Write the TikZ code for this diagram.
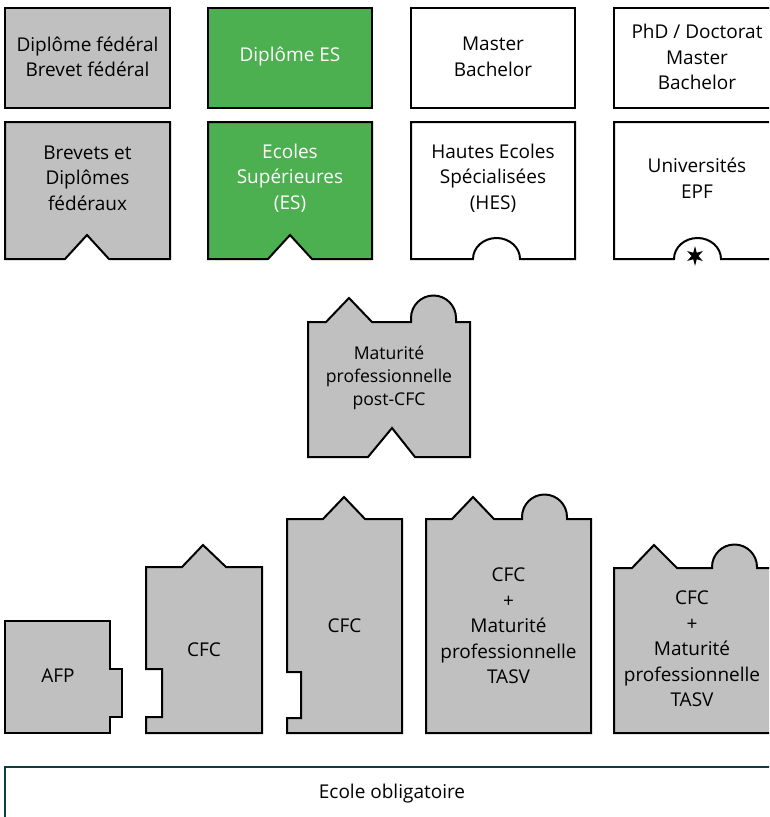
\documentclass[tikz,border=0pt]{standalone}
\usepackage{fontspec}
\setmainfont{Open Sans}
\usetikzlibrary{shapes.geometric}
\definecolor{boxgray}{RGB}{192,192,192}
\definecolor{boxgreen}{RGB}{76,175,80}
\definecolor{tealdark}{RGB}{15,60,60}
\tikzset{
  shp/.style={draw=black, line width=2pt, line join=miter},
  grayshp/.style={shp, fill=boxgray},
  greenshp/.style={shp, fill=boxgreen},
  whiteshp/.style={shp, fill=white},
  lbl/.style={align=center, inner sep=0pt, font=\fontsize{19}{25.5}\selectfont},
  lblw/.style={lbl, text=white},
  lbls/.style={align=center, inner sep=0pt, font=\fontsize{17.6}{23}\selectfont},
}
\begin{document}
\begin{tikzpicture}[x=1pt,y=1pt]
\clip (0,0) rectangle (769,-817);
\fill[white] (0,0) rectangle (769,-817);
% top row
\draw[grayshp] (5,-8) rectangle (170,-108);
\draw[greenshp] (208,-8) rectangle (372,-108);
\draw[whiteshp] (411,-8) rectangle (575,-108);
\draw[whiteshp] (614,-8) rectangle (779,-108);
\node[lbl] (t1) at (87.5,-57) {Diplôme fédéral\\Brevet fédéral};
\node[lblw] (t2) at (290,-57) {Diplôme ES};
\node[lbl] (t3) at (493,-57) {Master\\Bachelor};
\node[lbl] (t4) at (697,-57) {PhD / Doctorat\\Master\\Bachelor};
% second row
\draw[grayshp] (5,-122) -- (170,-122) -- (170,-259) -- (109,-259) -- (87,-235) -- (65,-259) -- (5,-259) -- cycle;
\draw[greenshp] (208,-122) -- (372,-122) -- (372,-259) -- (312,-259) -- (290,-235) -- (268,-259) -- (208,-259) -- cycle;
\draw[whiteshp] (411,-122) -- (575,-122) -- (575,-259) -- (520,-259)
   arc[start angle=0, end angle=180, x radius=23.5pt, y radius=21pt] -- (411,-259) -- cycle;
\draw[whiteshp] (614,-122) -- (779,-122) -- (779,-259) -- (721,-259)
   arc[start angle=0, end angle=180, x radius=23.5pt, y radius=21pt] -- (614,-259) -- cycle;
\node[star, star points=6, star point ratio=2.6, fill=black, minimum size=18pt, inner sep=0pt, yscale=1.1] (st) at (695,-256) {};
\node[lbl] (s1) at (87.5,-178) {Brevets et\\Diplômes\\fédéraux};
\node[lblw] (s2) at (290,-178) {Ecoles\\Supérieures\\(ES)};
\node[lbl] (s3) at (493,-178) {Hautes Ecoles\\Spécialisées\\(HES)};
\node[lbl] (s4) at (697,-178) {Universités\\EPF};
% middle
\draw[grayshp] (308,-322) -- (326,-322) -- (349,-298) -- (372,-322) -- (411,-322) -- (411,-318)
   arc[start angle=180, end angle=0, radius=22.5pt] -- (456,-322) -- (470,-322) -- (470,-457)
   -- (415,-457) -- (392,-428) -- (368,-457) -- (308,-457) -- cycle;
\node[lbls] (m) at (389,-378) {Maturité\\professionnelle\\post-CFC};
% bottom row
\draw[grayshp] (5,-621) -- (110,-621) -- (110,-669) -- (122,-669) -- (122,-717) -- (110,-717) -- (110,-733) -- (5,-733) -- cycle;
\node[lbl] (afp) at (58,-676) {AFP};
\draw[grayshp] (146,-567) -- (182,-567) -- (203,-545) -- (226,-567) -- (262,-567) -- (262,-733) -- (146,-733)
   -- (146,-717) -- (162,-717) -- (162,-669) -- (146,-669) -- cycle;
\node[lbl] (cfc1) at (204,-650) {CFC};
\draw[grayshp] (287,-519) -- (323,-519) -- (344,-497) -- (365,-519) -- (402,-519) -- (402,-733) -- (287,-733)
   -- (287,-718) -- (301,-718) -- (301,-672) -- (287,-672) -- cycle;
\node[lbl] (cfc2) at (344.5,-626) {CFC};
\draw[grayshp] (426,-519) -- (452,-519) -- (473,-497) -- (494,-519) -- (522,-519) -- (522,-517)
   arc[start angle=180, end angle=0, radius=22.5pt] -- (567,-519) -- (591,-519) -- (591,-733) -- (426,-733) -- cycle;
\node[lbl] (cfcm1) at (508.5,-626) {CFC\\+\\Maturité\\professionnelle\\TASV};
\draw[grayshp] (614,-568) -- (632,-568) -- (654,-545) -- (677,-568) -- (712,-568) -- (712,-567)
   arc[start angle=180, end angle=0, radius=22.5pt] -- (757,-568) -- (780,-568) -- (780,-733) -- (614,-733) -- cycle;
\node[lbl] (cfcm2) at (692,-649) {CFC\\+\\Maturité\\professionnelle\\TASV};
% ecole obligatoire
\draw[draw=tealdark, line width=2.4pt, fill=white] (5,-767) rectangle (800,-840);
\node[lbl] (eo) at (392,-794) {Ecole obligatoire};
\end{tikzpicture}
\end{document}
